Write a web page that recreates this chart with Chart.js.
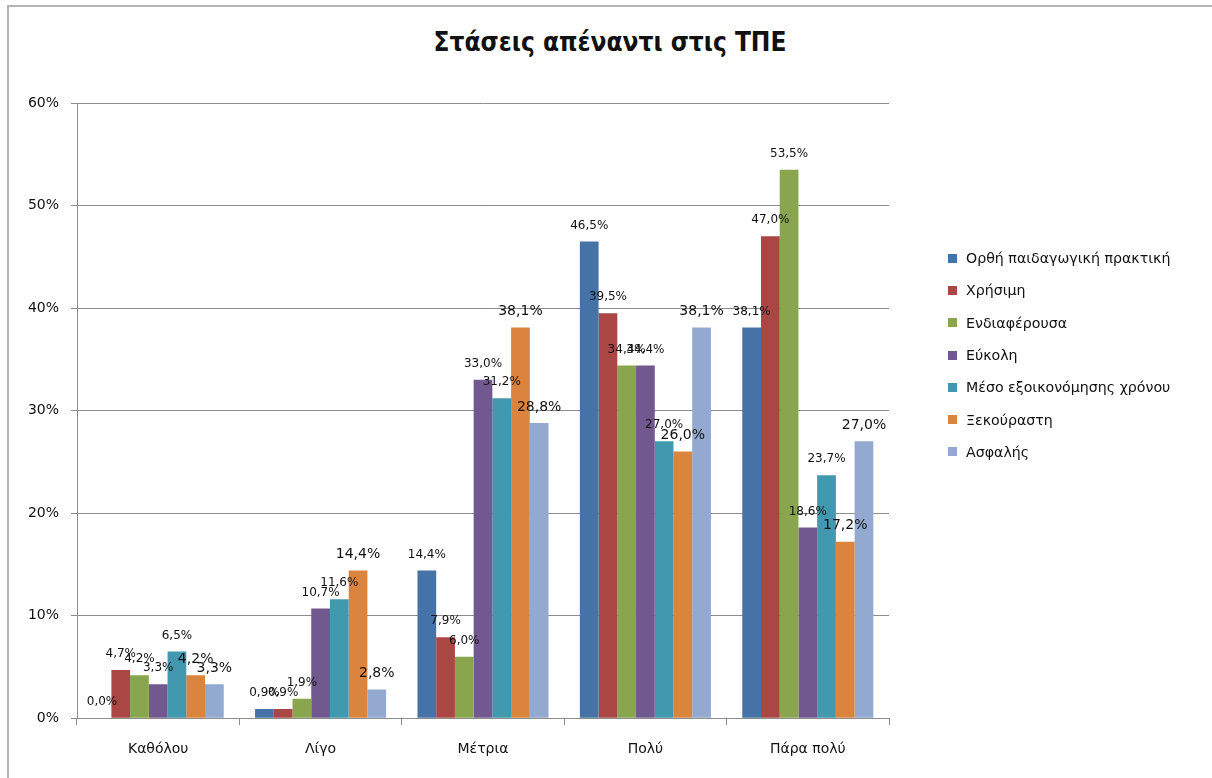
<!DOCTYPE html>
<html lang="el">
<head>
<meta charset="utf-8">
<title>Στάσεις απέναντι στις ΤΠΕ</title>
<script src="https://cdn.jsdelivr.net/npm/chart.js@4.4.1/dist/chart.umd.min.js"></script>
<style>
  html, body { margin: 0; padding: 0; background: #fff; overflow: hidden; }
  #wrap { position: relative; width: 1212px; height: 778px; }
  #frame { position: absolute; left: 7px; top: 5px; width: 1400px; height: 900px;
           border: 2px solid #b4b4b4; box-sizing: border-box; }
  #chartTitle { position: absolute; left: 4px; top: 24px; width: 1212px; text-align: center;
                font: bold 26px "DejaVu Sans Condensed", "DejaVu Sans", sans-serif; color: #111;
                line-height: 36px; }
  #myChart { position: absolute; left: 0; top: 0; }
  #legend { position: absolute; left: 948px; top: 242px; margin: 0; padding: 0; list-style: none;
            font: 14.2px "DejaVu Sans", sans-serif; color: #111; }
  #legend li { height: 32.3px; display: flex; align-items: center; white-space: nowrap; }
  #legend span { display: inline-block; width: 9px; height: 9px; margin-right: 9px; }
</style>
</head>
<body>
<div id="wrap">
  <div id="frame"></div>
  <div id="chartTitle">Στάσεις απέναντι στις ΤΠΕ</div>
  <canvas id="myChart" width="1212" height="778"></canvas>
  <ul id="legend"></ul>
</div>
<script>
// answers per level of agreement, % of respondents
const levels = ['Καθόλου', 'Λίγο', 'Μέτρια', 'Πολύ', 'Πάρα πολύ'];
const yTicks = [0, 10, 20, 30, 40, 50, 60];

const orthi      = [0.0, 0.9, 14.4, 46.5, 38.1];
const xrisimi    = [4.7, 0.9, 7.9, 39.5, 47.0];
const endiaf     = [4.2, 1.9, 6.0, 34.4, 53.5];
const eukoli     = [3.3, 10.7, 33.0, 34.4, 18.6];
const oikonomia  = [6.5, 11.6, 31.2, 27.0, 23.7];
const xekourasti = [4.2, 14.4, 38.1, 26.0, 17.2];
const asfalis    = [3.3, 2.8, 28.8, 38.1, 27.0];

const series = [
    ['Ορθή παιδαγωγική πρακτική', orthi, '#4572A7', 12],
    ['Χρήσιμη', xrisimi, '#AA4643', 12],
    ['Ενδιαφέρουσα', endiaf, '#89A54E', 12],
    ['Εύκολη', eukoli, '#71588F', 12],
    ['Μέσο εξοικονόμησης χρόνου', oikonomia, '#4198AF', 12],
    ['Ξεκούραστη', xekourasti, '#DB843D', 14],
    ['Ασφαλής', asfalis, '#93A9CF', 14]
];

const pct = v => v.toFixed(1).replace('.', ',') + '%';

// value labels above each bar
const barLabels = {
    id: 'barLabels',
    afterDatasetsDraw(chart) {
        const ctx = chart.ctx;
        ctx.save();
        ctx.fillStyle = '#111';
        ctx.textAlign = 'center';
        ctx.textBaseline = 'middle';
        chart.data.datasets.forEach((ds, i) => {
            ctx.font = ds.labelSize + 'px "DejaVu Sans", sans-serif';
            chart.getDatasetMeta(i).data.forEach((bar, j) => {
                ctx.fillText(pct(ds.data[j]), bar.x, bar.y - 16);
            });
        });
        ctx.restore();
    }
};

const ctx = document.getElementById('myChart').getContext('2d');
const myChart = new Chart(ctx, {
    type: 'bar',
    data: {
        labels: levels,
        datasets: series.map(s => ({
            label: s[0],
            data: s[1],
            backgroundColor: s[2],
            labelSize: s[3],
            borderWidth: 0,
            barPercentage: 1,
            categoryPercentage: 0.807
        }))
    },
    options: {
        responsive: false,
        animation: false,
        layout: { padding: { top: 103, right: 323, bottom: 4, left: 0 } },
        plugins: {
            legend: { display: false },
            tooltip: { enabled: false }
        },
        scales: {
            x: {
                grid: { drawOnChartArea: false, offset: true, tickLength: 7, color: '#8c8c8c' },
                border: { color: '#8c8c8c' },
                ticks: { padding: 16, color: '#111', font: { family: 'DejaVu Sans', size: 14 } }
            },
            y: {
                min: 0,
                max: 60,
                afterBuildTicks: scale => { scale.ticks = yTicks.map(v => ({ value: v })); },
                afterFit: scale => { scale.width = 77; },
                grid: { color: '#8c8c8c', tickLength: 6 },
                border: { color: '#8c8c8c' },
                ticks: {
                    padding: 12,
                    color: '#111',
                    font: { family: 'DejaVu Sans', size: 14 },
                    callback: v => v + '%'
                }
            }
        }
    },
    plugins: [barLabels]
});

// legend on the right, built from the datasets
const legendList = document.getElementById('legend');
myChart.data.datasets.forEach(ds => {
    const li = document.createElement('li');
    li.innerHTML = '<span style="background:' + ds.backgroundColor + '"></span>' + ds.label;
    legendList.appendChild(li);
});
</script>
</body>
</html>
